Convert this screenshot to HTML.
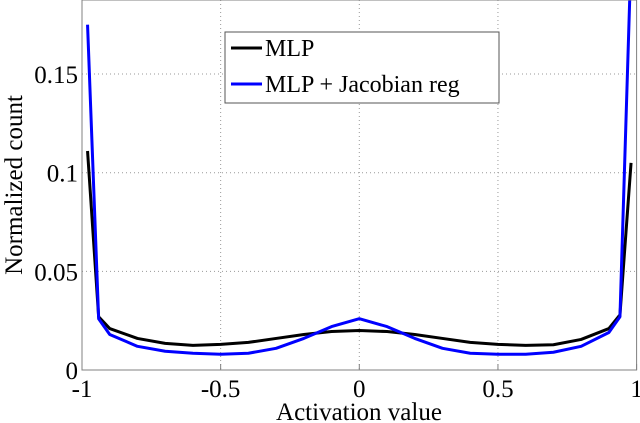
<!DOCTYPE html>
<html><head><meta charset="utf-8"><style>
html,body{margin:0;padding:0;background:#fff;}
svg{display:block;font-family:"Liberation Serif",serif;}
</style></head><body>
<svg id="chart" width="640" height="423">
<defs><clipPath id="clip"><rect x="82" y="0" width="555" height="370"/></clipPath></defs>
<g id="grid"></g>
<g id="series" clip-path="url(#clip)"></g>
<rect x="82" y="0" width="554.6" height="370" fill="none" stroke="#808080" stroke-width="1"/>
<g id="ticks" font-size="25" fill="#000"></g>
<text x="359" y="420" font-size="25" text-anchor="middle">Activation value</text>
<text transform="translate(22,185) rotate(-90)" font-size="25" text-anchor="middle">Normalized count</text>
<g>
<rect x="225" y="32" width="274" height="71" fill="#fff" stroke="#555" stroke-width="1"/>
<line x1="231" y1="48" x2="262" y2="48" stroke="#000" stroke-width="3"/>
<text x="265" y="56" font-size="24">MLP</text>
<line x1="231" y1="84" x2="262" y2="84" stroke="#0000ff" stroke-width="3"/>
<text x="265" y="92" font-size="24">MLP + Jacobian reg</text>
</g>
</svg>
<script>
const xs = [-0.98,-0.94,-0.9,-0.8,-0.7,-0.6,-0.5,-0.4,-0.3,-0.2,-0.1,0,0.1,0.2,0.3,0.4,0.5,0.6,0.7,0.8,0.9,0.94,0.98];
const mlp = [0.111,0.027,0.021,0.016,0.0135,0.0125,0.013,0.014,0.016,0.018,0.0195,0.020,0.0195,0.018,0.016,0.014,0.013,0.0125,0.0128,0.0155,0.021,0.028,0.105];
const jac = [0.175,0.026,0.018,0.012,0.0095,0.0085,0.008,0.0085,0.011,0.016,0.022,0.026,0.022,0.016,0.011,0.0085,0.008,0.008,0.009,0.012,0.019,0.027,0.21];
const xTicks = [-1,-0.5,0,0.5,1];
const xTickLabels = ["-1","-0.5","0","0.5","1"];
const yTicks = [0,0.05,0.1,0.15];
const yTickLabels = ["0","0.05","0.1","0.15"];
const NS="http://www.w3.org/2000/svg";
function X(v){return 82+(v+1)*277.3;}
function Y(v){return 370-v*1973;}
const grid=document.getElementById('grid'),ticks=document.getElementById('ticks'),ser=document.getElementById('series');
xTicks.forEach((t,i)=>{
  if(t>-1&&t<1){const l=document.createElementNS(NS,'line');
  l.setAttribute('x1',X(t));l.setAttribute('x2',X(t));l.setAttribute('y1',0);l.setAttribute('y2',370);
  l.setAttribute('stroke','#999');l.setAttribute('stroke-dasharray','1,3');
  
  
  grid.appendChild(l);}
  const tk=document.createElementNS(NS,'line');
  tk.setAttribute('x1',X(t));tk.setAttribute('x2',X(t));tk.setAttribute('y1',370);tk.setAttribute('y2',364);tk.setAttribute('stroke','#808080');
  
  
  ticks.appendChild(tk);
  const tx=document.createElementNS(NS,'text');
  tx.setAttribute('x',X(t));tx.setAttribute('y',397);tx.setAttribute('text-anchor','middle');tx.textContent=xTickLabels[i];
  
  
  ticks.appendChild(tx);
});
yTicks.forEach((t,i)=>{
  if(t>0){const l=document.createElementNS(NS,'line');
  l.setAttribute('x1',82);l.setAttribute('x2',636);l.setAttribute('y1',Y(t));l.setAttribute('y2',Y(t));
  l.setAttribute('stroke','#999');l.setAttribute('stroke-dasharray','1,3');
  
  
  grid.appendChild(l);}
  const tx=document.createElementNS(NS,'text');
  tx.setAttribute('x',78);tx.setAttribute('y',Y(t)+9);tx.setAttribute('text-anchor','end');tx.textContent=yTickLabels[i];
  
  
  ticks.appendChild(tx);
});
function draw(vals,color,name){
  const p=document.createElementNS(NS,'polyline');
  p.setAttribute('points',xs.map((x,i)=>X(x)+','+Y(vals[i])).join(' '));
  p.setAttribute('fill','none');p.setAttribute('stroke',color);p.setAttribute('stroke-width','3');p.setAttribute('stroke-linejoin','round');
  
  
  ser.appendChild(p);
}
draw(mlp,'#000','mlp-line');
draw(jac,'#0000ff','jacobian-line');
</script>
</body></html>
